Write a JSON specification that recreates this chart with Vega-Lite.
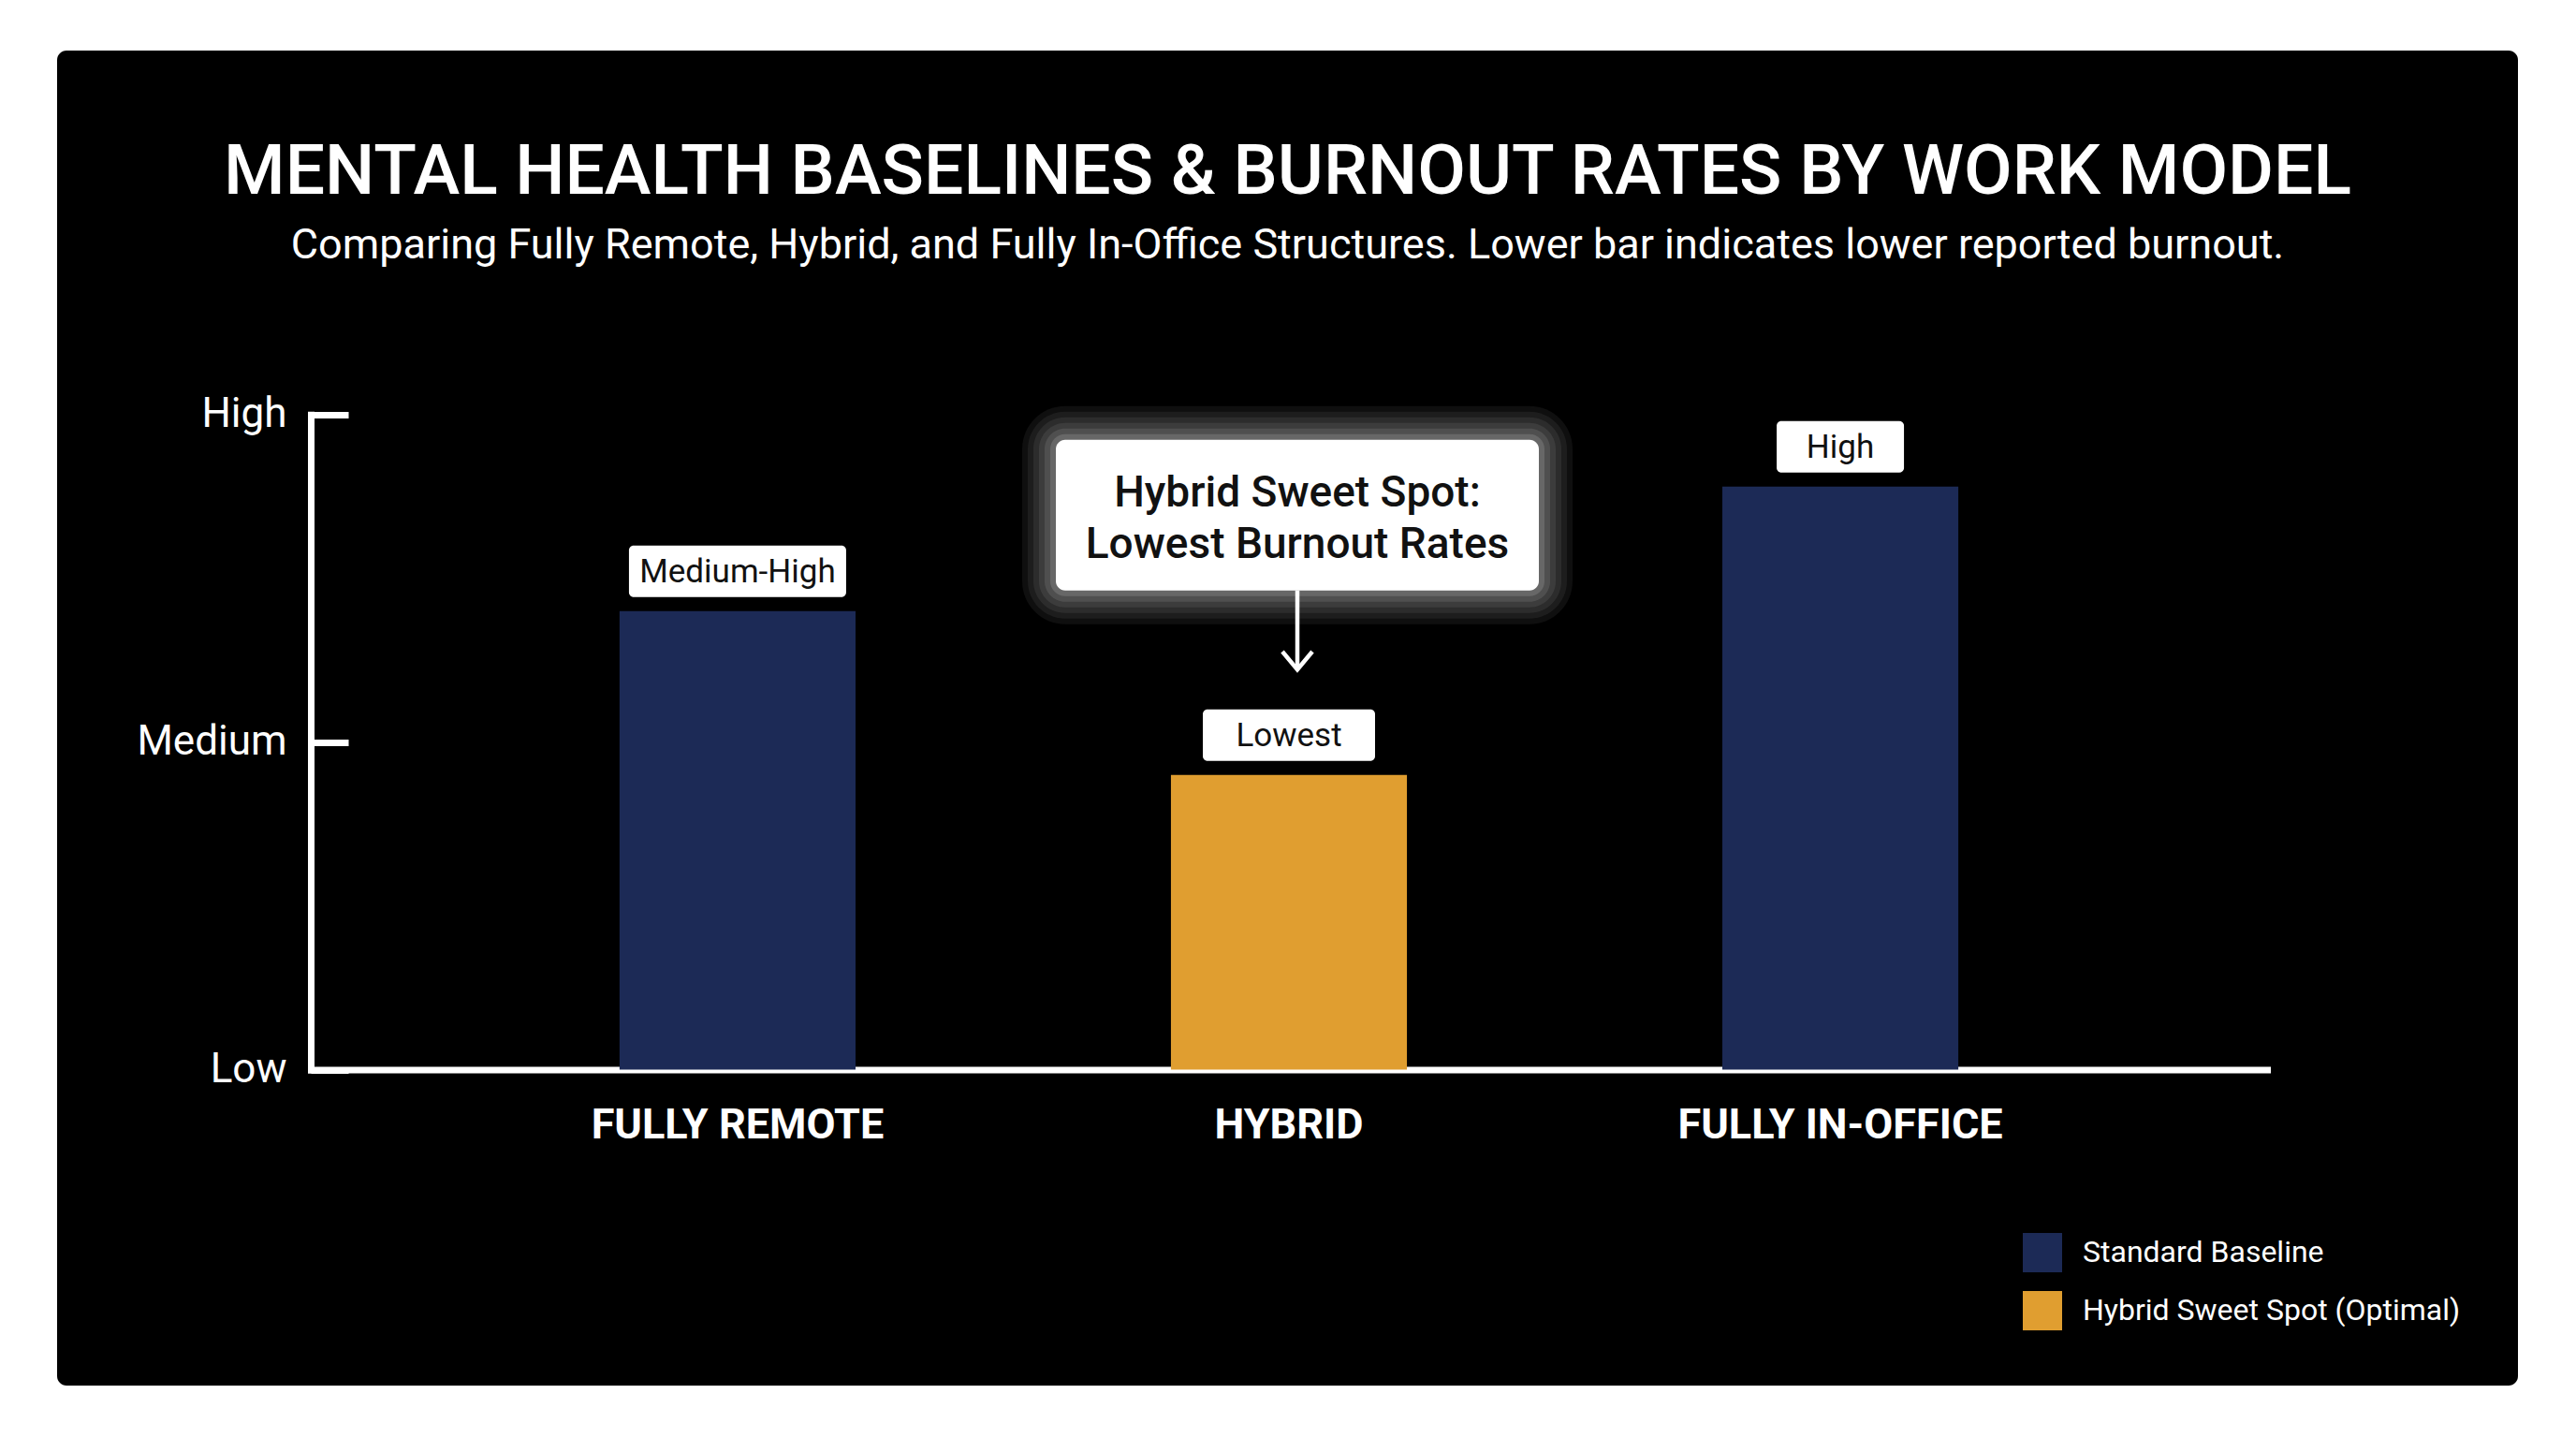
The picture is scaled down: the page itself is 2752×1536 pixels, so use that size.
{
  "$schema": "https://vega.github.io/schema/vega-lite/v6.json",
  "autosize": {"type": "none"},
  "width": 2629,
  "height": 1426,
  "padding": {"left": 61, "top": 54, "right": 62, "bottom": 56},
  "background": "#ffffff",
  "config": {
    "font": "Roboto",
    "view": {"fill": "#000000", "stroke": null, "cornerRadius": 10}
  },
  "title": {
    "text": "MENTAL HEALTH BASELINES & BURNOUT RATES BY WORK MODEL",
    "subtitle": "Comparing Fully Remote, Hybrid, and Fully In-Office Structures. Lower bar indicates lower reported burnout.",
    "font": "Roboto",
    "subtitleFont": "Roboto",
    "fontSize": 75,
    "fontWeight": 500,
    "subtitleFontSize": 45,
    "subtitleFontWeight": "normal",
    "color": "#ffffff",
    "subtitleColor": "#ffffff",
    "subtitlePadding": 17,
    "anchor": "middle",
    "frame": "group",
    "offset": -232
  },
  "data": {
    "values": [
      {"model": "FULLY REMOTE", "level": 70, "tag": "Medium-High", "group": "Standard Baseline"},
      {"model": "HYBRID", "level": 45, "tag": "Lowest", "group": "Hybrid Sweet Spot (Optimal)"},
      {"model": "FULLY IN-OFFICE", "level": 89, "tag": "High", "group": "Standard Baseline"}
    ]
  },
  "encoding": {
    "x": {
      "field": "model",
      "type": "nominal",
      "sort": null,
      "scale": {"type": "band", "range": [271, 2361], "paddingInner": 0.572, "paddingOuter": 0.56},
      "axis": {
        "title": null,
        "offset": -337.5,
        "domainColor": "#ffffff",
        "domainWidth": 7,
        "domainCap": "square",
        "ticks": false,
        "labelAngle": 0,
        "labelLimit": 0,
        "labelFont": "Roboto",
        "labelFontSize": 45,
        "labelFontWeight": "bold",
        "labelColor": "#ffffff",
        "labelPadding": 37
      }
    },
    "y": {
      "field": "level",
      "type": "quantitative",
      "scale": {"domain": [0, 100], "range": [1088.5, 388.8]},
      "axis": {
        "title": null,
        "values": [0, 50, 100],
        "labelExpr": "datum.value == 100 ? 'High' : datum.value == 50 ? 'Medium' : 'Low'",
        "offset": -271,
        "grid": false,
        "domainColor": "#ffffff",
        "domainWidth": 7,
        "domainCap": "square",
        "tickColor": "#ffffff",
        "tickWidth": 7,
        "tickSize": -40,
        "labelPadding": 66,
        "labelFont": "Roboto",
        "labelFontSize": 44,
        "labelColor": "#ffffff",
        "labelBaseline": "middle"
      }
    }
  },
  "layer": [
    {
      "mark": {"type": "bar"},
      "encoding": {
        "color": {
          "field": "group",
          "type": "nominal",
          "scale": {
            "domain": ["Standard Baseline", "Hybrid Sweet Spot (Optimal)"],
            "range": ["#1c2a56", "#e09e30"]
          },
          "legend": {
            "title": null,
            "orient": "none",
            "legendX": 2100,
            "legendY": 1263,
            "padding": 0,
            "symbolType": "square",
            "symbolSize": 1764,
            "symbolStrokeWidth": 0,
            "symbolOpacity": 1,
            "labelLimit": 0,
            "labelFont": "Roboto",
            "labelFontSize": 32,
            "labelColor": "#ffffff",
            "labelOffset": 22,
            "rowPadding": 20
          }
        }
      }
    },
    {
      "transform": [{"filter": "datum.model == 'HYBRID'"}],
      "mark": {"type": "bar", "color": "#ffffff", "opacity": 0.06, "width": 588, "xOffset": 9, "yOffset": -161, "y2Offset": -394, "cornerRadius": 46},
      "encoding": {"y2": {"field": "level"}}
    },
    {
      "transform": [{"filter": "datum.model == 'HYBRID'"}],
      "mark": {"type": "bar", "color": "#ffffff", "opacity": 0.06, "width": 576, "xOffset": 9, "yOffset": -167, "y2Offset": -388, "cornerRadius": 40},
      "encoding": {"y2": {"field": "level"}}
    },
    {
      "transform": [{"filter": "datum.model == 'HYBRID'"}],
      "mark": {"type": "bar", "color": "#ffffff", "opacity": 0.07, "width": 564, "xOffset": 9, "yOffset": -173, "y2Offset": -382, "cornerRadius": 34},
      "encoding": {"y2": {"field": "level"}}
    },
    {
      "transform": [{"filter": "datum.model == 'HYBRID'"}],
      "mark": {"type": "bar", "color": "#ffffff", "opacity": 0.08, "width": 552, "xOffset": 9, "yOffset": -179, "y2Offset": -376, "cornerRadius": 28},
      "encoding": {"y2": {"field": "level"}}
    },
    {
      "transform": [{"filter": "datum.model == 'HYBRID'"}],
      "mark": {"type": "bar", "color": "#ffffff", "opacity": 0.1, "width": 540, "xOffset": 9, "yOffset": -185, "y2Offset": -370, "cornerRadius": 22},
      "encoding": {"y2": {"field": "level"}}
    },
    {
      "transform": [{"filter": "datum.model == 'HYBRID'"}],
      "mark": {"type": "bar", "color": "#ffffff", "opacity": 0.14, "width": 528, "xOffset": 9, "yOffset": -191, "y2Offset": -364, "cornerRadius": 16},
      "encoding": {"y2": {"field": "level"}}
    },
    {
      "transform": [{"filter": "datum.model == 'HYBRID'"}],
      "mark": {"type": "bar", "color": "#ffffff", "opacity": 1, "width": 516, "xOffset": 9, "yOffset": -197, "y2Offset": -358, "cornerRadius": 10},
      "encoding": {"y2": {"field": "level"}}
    },
    {
      "transform": [{"filter": "datum.model == 'HYBRID'"}],
      "mark": {
        "type": "text",
        "text": ["Hybrid Sweet Spot:", "Lowest Burnout Rates"],
        "font": "Roboto",
        "fontSize": 46,
        "fontWeight": 500,
        "color": "#111111",
        "align": "center",
        "baseline": "middle",
        "lineHeight": 55,
        "xOffset": 9,
        "yOffset": -301
      }
    },
    {
      "transform": [{"filter": "datum.model == 'HYBRID'"}],
      "mark": {"type": "rule", "color": "#ffffff", "strokeWidth": 4.5, "xOffset": 9, "yOffset": -197, "y2Offset": -113},
      "encoding": {"y2": {"field": "level"}}
    },
    {
      "transform": [{"filter": "datum.model == 'HYBRID'"}],
      "mark": {
        "type": "point",
        "shape": "M-1,-0.6L0,0.6L1,-0.6",
        "size": 1024,
        "filled": false,
        "stroke": "#ffffff",
        "strokeWidth": 4.5,
        "opacity": 1,
        "xOffset": 9,
        "yOffset": -122
      }
    },
    {
      "mark": {"type": "bar", "color": "#ffffff", "yOffset": -15, "y2Offset": -70, "cornerRadius": 5},
      "encoding": {
        "y2": {"field": "level"},
        "size": {
          "field": "tag",
          "type": "ordinal",
          "scale": {"domain": ["Medium-High", "Lowest", "High"], "range": [232, 136, 98]},
          "legend": null
        }
      }
    },
    {
      "mark": {
        "type": "text",
        "font": "Roboto",
        "fontSize": 35,
        "color": "#111111",
        "align": "center",
        "baseline": "middle",
        "yOffset": -42
      },
      "encoding": {"text": {"field": "tag"}}
    }
  ]
}
